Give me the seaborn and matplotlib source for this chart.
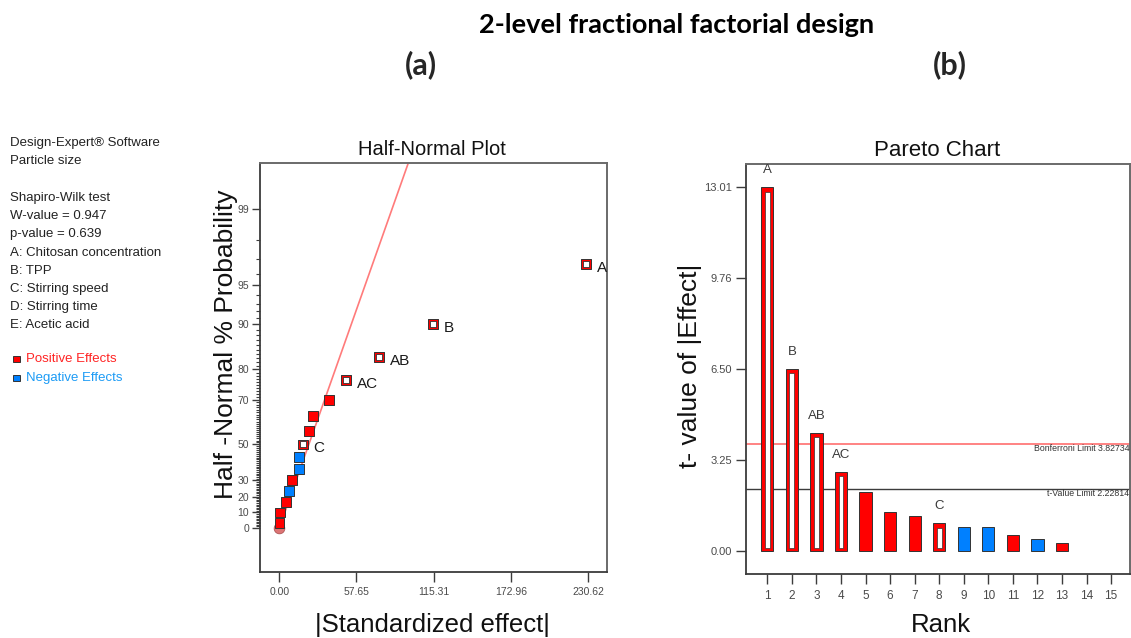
import statistics

import matplotlib
matplotlib.use("Agg")
import matplotlib.pyplot as plt
from matplotlib.patches import Rectangle
import numpy as np
import pandas as pd
import seaborn as sns

# ---------------------------------------------------------------- data
ranks = list(range(1, 16))
terms = ["A", "B", "AB", "AC", "", "", "", "C", "", "", "", "", "", "", ""]
signs = ["+", "+", "+", "+", "+", "+", "+", "+", "-", "-", "+", "-", "+", "+", "+"]
t_values = [13.01, 6.51, 4.23, 2.82, 2.10, 1.39, 1.26, 0.98, 0.87, 0.85,
            0.56, 0.41, 0.29, 0.0, 0.0]
std_effects = [229.3, 114.8, 74.7, 49.8, 36.9, 24.9, 22.2, 17.5, 14.9, 14.7,
               9.7, 7.0, 5.0, 0.5, 0.1]
half_normal_pct = [96.67, 90.0, 83.33, 76.67, 70.0, 63.33, 56.67, 50.0, 43.33,
                   36.67, 30.0, 23.33, 16.67, 10.0, 3.33]

x_ticks_effect = [0.00, 57.65, 115.31, 172.96, 230.62]
y_ticks_pct = [0, 10, 20, 30, 50, 70, 80, 90, 95, 99]
y_ticks_t = [0.00, 3.25, 6.50, 9.76, 13.01]

bonferroni_limit = 3.82734
t_value_limit = 2.22814
error_line_slope = 32.7          # |effect| per half-normal score

info_lines = ["Design-Expert\u00ae Software", "Particle size", "",
              "Shapiro-Wilk test", "W-value = 0.947", "p-value = 0.639",
              "A: Chitosan concentration", "B: TPP", "C: Stirring speed",
              "D: Stirring time", "E: Acetic acid"]

RED = "#FF0000"
BLUE = "#0080FF"
EDGE = "#333333"
palette = {"+": RED, "-": BLUE}

df = pd.DataFrame({"rank": ranks, "term": terms, "sign": signs,
                   "t": t_values, "effect": std_effects,
                   "pct": half_normal_pct})

# ---------------------------------------------------------------- style
sns.set_style("white")
plt.rcParams["font.family"] = ["Liberation Sans", "DejaVu Sans"]

fig = plt.figure(figsize=(11.31, 6.38), dpi=100)
W, H = 1131, 638


def fig_box(left, top, right, bottom):
    return [left / W, 1 - bottom / H, (right - left) / W, (bottom - top) / H]


# half-normal probability scale
_nd = statistics.NormalDist()
_ppf = np.vectorize(lambda p: _nd.inv_cdf(min(max(p, 1e-12), 1 - 1e-12)),
                    otypes=[float])
_cdf = np.vectorize(_nd.cdf, otypes=[float])


def pct_to_score(p):
    return _ppf(0.5 + np.asarray(p, dtype=float) / 200.0)


def score_to_pct(z):
    return (2.0 * _cdf(np.asarray(z, dtype=float)) - 1.0) * 100.0


def style_axes(ax):
    for side in ("left", "bottom"):
        ax.spines[side].set_color("#3c3c3c")
        ax.spines[side].set_linewidth(1.3)
    for side in ("top", "right"):
        ax.spines[side].set_color("#6a6a6a")
        ax.spines[side].set_linewidth(1.4)
    ax.tick_params(which="both", direction="out", color="#3c3c3c",
                   labelcolor="#4a4a4a", width=1.0, bottom=True, left=True,
                   top=False, right=False)


# ---------------------------------------------------------------- (a) half-normal
ax1 = fig.add_axes(fig_box(260, 163, 607, 572))
ax1.set_yscale("function", functions=(pct_to_score, score_to_pct))

scores = np.linspace(0.05, 3.2, 60)
sns.lineplot(x=error_line_slope * scores, y=score_to_pct(scores), color="#FF7B7B",
             linewidth=1.2, sort=False, ax=ax1, zorder=1)

sns.scatterplot(x=[0.0], y=[0.0], marker="o", s=60, color="#D65C5C",
                edgecolor="#9a3a3a", linewidth=0.5, alpha=0.85, ax=ax1, zorder=2)
sns.scatterplot(data=df, x="effect", y="pct", hue="sign", palette=palette,
                marker="s", s=50, edgecolor=EDGE, linewidth=0.7,
                legend=False, ax=ax1, zorder=3)
labelled = df[df["term"] != ""]
sns.scatterplot(data=labelled, x="effect", y="pct", color="white", marker="s",
                s=14, edgecolor=EDGE, linewidth=0.6, legend=False, ax=ax1,
                zorder=4)
for _, row in labelled.iterrows():
    ax1.annotate(row["term"], (row["effect"], row["pct"]),
                 xytext=(11, -4), textcoords="offset pixels", ha="left",
                 va="center", fontsize=11, color="#1a1a1a", clip_on=False)

ax1.set_xlim(-14.4, 244.7)
ax1.set_ylim(score_to_pct(-0.355), score_to_pct(2.946))
ax1.set_xticks(x_ticks_effect)
ax1.set_xticklabels([f"{v:.2f}" for v in x_ticks_effect])
ax1.set_yticks(y_ticks_pct)
ax1.set_yticklabels([str(v) for v in y_ticks_pct])
ax1.set_yticks([v for v in range(1, 99) if v not in y_ticks_pct], minor=True)
ax1.tick_params(axis="x", which="minor", bottom=False)
style_axes(ax1)
ax1.tick_params(axis="x", which="minor", bottom=False)
ax1.tick_params(axis="x", which="major", length=7.2, pad=3.5, labelsize=7.5)
ax1.tick_params(axis="y", which="major", length=5.8, pad=2, labelsize=7.5)
ax1.tick_params(axis="y", which="minor", length=3.0, width=0.8)

ax1.set_xlabel("|Standardized effect|", fontsize=18.5, color="#111111",
               va="center")
ax1.xaxis.set_label_coords(0.496, -0.130)
ax1.set_ylabel("Half -Normal % Probability", fontsize=19, color="#111111",
               va="center")
ax1.yaxis.set_label_coords(-0.098, 0.557)
ax1.text(0.496, 1.032, "Half-Normal Plot", transform=ax1.transAxes,
         ha="center", va="center", fontsize=14.5, color="#111111")

# ---------------------------------------------------------------- (b) pareto
ax2 = fig.add_axes(fig_box(746, 164, 1130, 574))
bars = df[df["t"] > 0]
sns.barplot(data=bars, x="rank", y="t", hue="sign", palette=palette,
            native_scale=True, dodge=False, width=0.5, saturation=1,
            edgecolor=EDGE, linewidth=0.7, legend=False, ax=ax2, zorder=2)

# selected model terms: hollow bars
sel = bars[bars["term"] != ""]
inset_bottom, inset_top = 0.10, 0.15
ax2.bar(sel["rank"], sel["t"] - inset_bottom - inset_top, bottom=inset_bottom,
        width=0.2, color="white", edgecolor=EDGE, linewidth=0.5, zorder=3)
for _, row in sel.iterrows():
    ax2.annotate(row["term"], (row["rank"], row["t"]), xytext=(0, 17),
                 textcoords="offset pixels", ha="center", va="center",
                 fontsize=9.5, color="#3a3a3a")

ax2.axhline(bonferroni_limit, color="#FF6E6E", linewidth=1.2, zorder=1)
ax2.axhline(t_value_limit, color="#3c3c3c", linewidth=1.0, zorder=1)
ytr = ax2.get_yaxis_transform()
ax2.text(0.9985, bonferroni_limit, f"Bonferroni Limit {bonferroni_limit:.5f}",
         transform=ytr, ha="right", va="top", fontsize=6.3, color="#333333")
ax2.text(0.9985, t_value_limit, f"t-Value Limit {t_value_limit:.5f}",
         transform=ytr, ha="right", va="top", fontsize=6.3, color="#333333")

ax2.set_xlim(0.132, 15.77)
ax2.set_ylim(-0.83, 13.85)
ax2.set_xticks(ranks)
ax2.set_xticklabels([str(r) for r in ranks])
ax2.set_yticks(y_ticks_t)
ax2.set_yticklabels([f"{v:.2f}" for v in y_ticks_t])
style_axes(ax2)
ax2.tick_params(axis="x", length=7.2, pad=4, labelsize=8.5)
ax2.tick_params(axis="y", length=7.2, pad=3, labelsize=8)

ax2.set_xlabel("Rank", fontsize=18.5, color="#111111", va="center")
ax2.xaxis.set_label_coords(0.508, -0.124)
ax2.set_ylabel("t- value of |Effect|", fontsize=19, color="#111111",
               va="center")
ax2.yaxis.set_label_coords(-0.146, 0.507)
ax2.text(0.498, 1.034, "Pareto Chart", transform=ax2.transAxes,
         ha="center", va="center", fontsize=16, color="#111111")

# ---------------------------------------------------------------- headings
fig.text(677 / W, 1 - 25 / H, "2-level fractional factorial design",
         ha="center", va="center", fontsize=19.5, fontweight="bold",
         family=["Lato", "DejaVu Sans"], color="#000000")
fig.text(421 / W, 1 - 65 / H, "(a)", ha="center", va="center", fontsize=22,
         fontweight="bold", family=["Lato", "DejaVu Sans"])
fig.text(950 / W, 1 - 65 / H, "(b)", ha="center", va="center", fontsize=22,
         fontweight="bold", family=["Lato", "DejaVu Sans"])

# ---------------------------------------------------------------- info panel
y0, step = 143.3, 18.2
for i, line in enumerate(info_lines):
    if line:
        fig.text(10 / W, 1 - (y0 + i * step) / H, line, ha="left",
                 va="center", fontsize=9.5, color="#222222")

legend_items = [("Positive Effects", RED, "#FF2424"),
                ("Negative Effects", BLUE, "#1C9BF5")]
for j, (label, face, txt_color) in enumerate(legend_items):
    yc = 359 + j * 18.5
    fig.patches.append(Rectangle((13.5 / W, 1 - (yc + 3) / H), 6 / W, 6 / H,
                                 transform=fig.transFigure, facecolor=face,
                                 edgecolor=EDGE, linewidth=0.7))
    fig.text(26 / W, 1 - yc / H, label, ha="left", va="center", fontsize=9.5,
             color=txt_color)

fig.savefig("out.png", dpi=100)
